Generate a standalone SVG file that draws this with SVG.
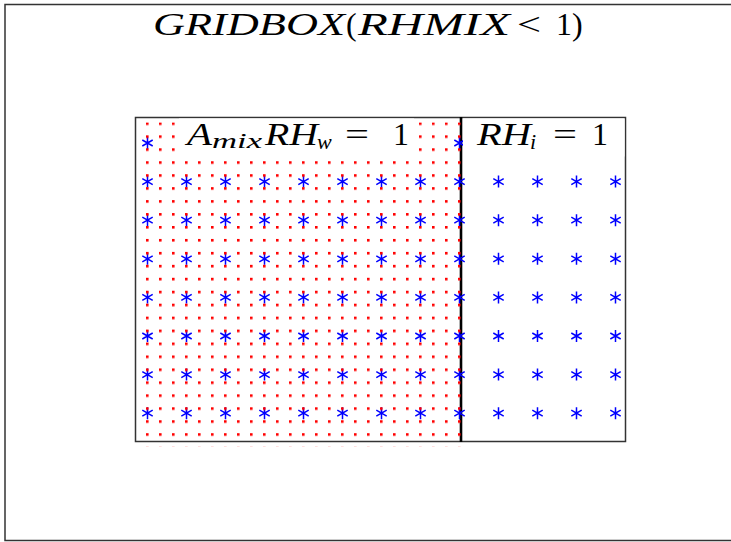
<svg xmlns="http://www.w3.org/2000/svg" xmlns:xlink="http://www.w3.org/1999/xlink" width="731" height="542" viewBox="0 0 731 542">
<style>
.frame{fill:none;stroke:#333;stroke-width:1.5}
.t{font-family:"Liberation Serif",serif;fill:#000}
.i{font-style:italic}
.st{stroke:#0000ff;stroke-width:1.5;fill:none}
</style>
<defs>
<path id="star" class="st" d="M0,-6V6M-5.2,-3L5.2,3M-5.2,3L5.2,-3"/>
<g id="starrow">
<use href="#star" x="147.5"/><use href="#star" x="186.5"/><use href="#star" x="225.5"/><use href="#star" x="264.5"/><use href="#star" x="303.5"/><use href="#star" x="342.5"/><use href="#star" x="381.5"/><use href="#star" x="420.5"/><use href="#star" x="459.5"/><use href="#star" x="498.5"/><use href="#star" x="537.5"/><use href="#star" x="576.5"/><use href="#star" x="615.5"/>
</g>
<pattern id="dots" patternUnits="userSpaceOnUse" x="146" y="122.4" width="13" height="12.95">
<rect x="0" y="0" width="2.6" height="2.6" fill="#ff0000"/>
</pattern>
</defs>
<rect width="731" height="542" fill="#fff"/>
<g id="gridbox">
<rect class="frame" x="5" y="4.5" width="730" height="536"/>
<text class="t i" x="153" y="35" font-size="32" textLength="192" lengthAdjust="spacingAndGlyphs">GRIDBOX</text>
<text class="t" x="346" y="35" font-size="32">(</text>
<text class="t i" x="358" y="35" font-size="32" textLength="152" lengthAdjust="spacingAndGlyphs">RHMIX</text>
<text class="t" x="517" y="35" font-size="32" textLength="24" lengthAdjust="spacingAndGlyphs">&lt;</text>
<text class="t" x="556" y="35" font-size="32">1)</text>
</g>
<g id="region">
<rect class="frame" x="135.5" y="117.5" width="490" height="324"/>
<line x1="461" y1="117" x2="461" y2="442" stroke="#000" stroke-width="2.6"/>
</g>
<g id="ice">
<use href="#star" x="147.5" y="143"/><use href="#star" x="459.5" y="143"/>
<use href="#starrow" y="181.6"/>
<use href="#starrow" y="220.2"/>
<use href="#starrow" y="258.8"/>
<use href="#starrow" y="297.4"/>
<use href="#starrow" y="336"/>
<use href="#starrow" y="374.6"/>
<use href="#starrow" y="413.2"/>
</g>
<g id="water">
<rect x="146" y="122.4" width="325" height="323.75" fill="url(#dots)"/>
</g>
<g id="label-mix">
<rect x="179" y="118.5" width="235" height="38" fill="#fff"/>
<text class="t i" x="187" y="145" font-size="32" textLength="25" lengthAdjust="spacingAndGlyphs">A</text>
<text class="t i" x="212" y="148" font-size="22" textLength="50" lengthAdjust="spacingAndGlyphs">mix</text>
<text class="t i" x="265" y="145" font-size="32" textLength="53" lengthAdjust="spacingAndGlyphs">RH</text>
<text class="t i" x="317" y="149" font-size="22">w</text>
<text class="t" x="345" y="145" font-size="32" textLength="24" lengthAdjust="spacingAndGlyphs">=</text>
<text class="t" x="393" y="145" font-size="32">1</text>
</g>
<g id="label-ice">
<rect x="463" y="118.5" width="161.5" height="38" fill="#fff"/>
<text class="t i" x="477" y="145" font-size="32" textLength="54" lengthAdjust="spacingAndGlyphs">RH</text>
<text class="t i" x="530" y="149" font-size="22">i</text>
<text class="t" x="553" y="145" font-size="32" textLength="24" lengthAdjust="spacingAndGlyphs">=</text>
<text class="t" x="592" y="145" font-size="32">1</text>
</g>
</svg>
